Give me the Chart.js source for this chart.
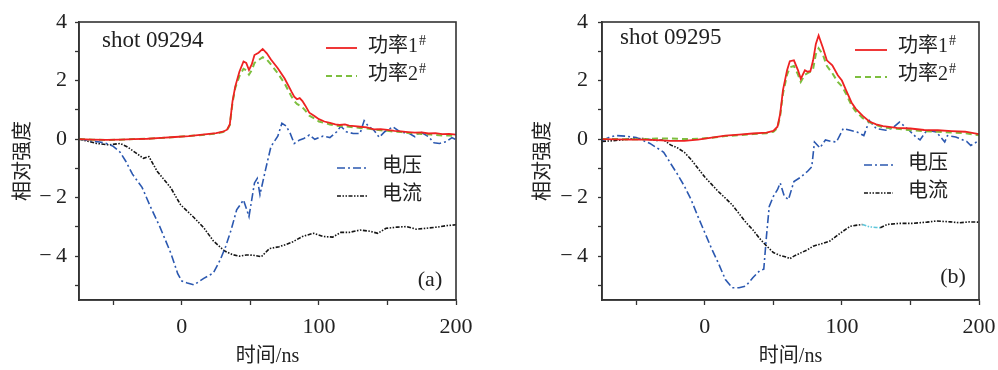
<!DOCTYPE html>
<html lang="zh">
<head>
<meta charset="UTF-8">
<title>相对强度 - shot 09294 / 09295</title>
<script src="https://cdn.jsdelivr.net/npm/chart.js"></script>
<style>
    body { margin: 0; background: #fff; }
    #wrap { position: relative; width: 998px; height: 370px; }
    .panel { position: absolute; top: 0; }
</style>
</head>
<body>
<div id="wrap">
    <canvas id="chartA" class="panel" width="480" height="370" style="left:0px"></canvas>
    <canvas id="chartB" class="panel" width="478" height="370" style="left:520px"></canvas>
</div>

<script>
// ---- data (time in ns, relative intensity) ----
const xTicks = [-50, 0, 50, 100, 150, 200];
const xLabels = [0, 100, 200];
const yTicks = [-5, -4, -3, -2, -1, 0, 1, 2, 3, 4];
const yLabels = [-4, -2, 0, 2, 4];
const seriesNames = ['功率1#', '功率2#', '电压', '电流'];

// shot 09294 (a)
const tPowerA = [-75,-65,-55,-45,-35,-25,-15,-5,5,15,25,30,33,35,37,39,42,45,47,49,51,53,56,59,62,65,70,75,
                 80,82,84,86,88,90,93,97,100,104,108,112,115,119,122,126,130,135,140,145,150,155,160,165,170,175,180,185,190,195,200];
const power1A = [0,-0.02,-0.03,-0.02,0,0.01,0.04,0.07,0.1,0.15,0.2,0.25,0.32,0.5,1.3,1.8,2.3,2.65,2.6,2.36,2.55,2.87,2.95,3.08,2.93,2.72,2.42,2.07,
                 1.62,1.45,1.36,1.4,1.3,1.15,0.9,0.78,0.68,0.6,0.55,0.5,0.48,0.5,0.46,0.44,0.42,0.4,0.33,0.34,0.31,0.28,0.26,0.24,0.22,0.23,0.19,0.2,0.17,0.18,0.15];
const power2A = [0,-0.02,-0.03,-0.02,0,0.01,0.04,0.07,0.1,0.14,0.19,0.24,0.3,0.48,1.25,1.75,2.15,2.4,2.35,2.2,2.35,2.6,2.7,2.8,2.72,2.55,2.25,1.9,
                 1.45,1.3,1.2,1.15,1.08,0.98,0.8,0.7,0.6,0.55,0.5,0.46,0.45,0.44,0.42,0.4,0.38,0.36,0.33,0.3,0.28,0.25,0.24,0.21,0.2,0.17,0.16,0.14,0.12,0.12,0.1];
const tVoltA = [-75,-68,-60,-55,-50,-45,-41,-36,-29,-23,-16,-8,-3,0,4,9,16,23,28,32,36,40,45,49,53,55,57,61,65,70,73,76,79,
                82,86,89,93,97,100,103,108,113,116,120,125,130,133,136,140,144,148,154,159,166,170,174,180,184,188,193,197,200];
const voltA = [0,-0.05,-0.1,-0.15,-0.25,-0.45,-0.75,-1.2,-1.65,-2.3,-3.0,-3.9,-4.6,-4.85,-4.92,-4.98,-4.76,-4.58,-4.13,-3.67,-3.1,-2.42,-2.08,-2.65,-1.5,-1.35,-1.9,-1.06,-0.26,0.1,0.54,0.45,0.2,
               -0.15,-0.03,0.02,0.14,-0.01,0.05,0.1,0.05,0.25,0.44,0.25,0.19,0.19,0.63,0.44,0.31,0.06,0.25,0.42,0.25,0.19,0.08,0.25,0.08,-0.13,-0.15,-0.09,0.05,-0.02];
const tCurrA = [-75,-68,-62,-53,-45,-40,-33,-28,-24,-18,-8,-1,9,16,23,31,37,42,47,52,58,64,71,
                76,81,88,96,103,110,116,122,130,137,143,149,157,164,171,178,186,193,200];
const currA = [0,-0.08,-0.15,-0.2,-0.15,-0.26,-0.49,-0.66,-0.6,-1.1,-1.67,-2.24,-2.69,-3.03,-3.48,-3.82,-3.95,-4.0,-3.96,-3.97,-4.02,-3.74,-3.68,
               -3.6,-3.51,-3.33,-3.22,-3.33,-3.35,-3.19,-3.19,-3.11,-3.15,-3.22,-3.05,-3.01,-2.99,-3.08,-3.05,-3.01,-2.96,-2.93];

// shot 09295 (b)
const tPowerB = [-75,-65,-55,-45,-35,-25,-15,-5,5,15,25,35,45,50,53,55,57,60,62,65,68,70,73,75,77,79,81,83,86,89,93,97,100,103,107,110,115,120,125,130,140,150,160,170,180,190,200];
const power1B = [0,-0.01,-0.02,-0.02,-0.04,-0.06,-0.06,-0.02,0.05,0.12,0.15,0.19,0.22,0.28,0.42,0.87,1.67,2.35,2.66,2.69,2.35,2.06,2.35,2.3,2.32,2.69,3.25,3.54,3.14,2.69,2.52,2.18,2.0,1.67,1.25,1.04,0.8,0.6,0.5,0.44,0.38,0.36,0.31,0.3,0.27,0.25,0.17];
const power2B = [0,0,-0.01,-0.01,0.02,0.02,0.0,0.01,0.04,0.1,0.13,0.17,0.2,0.25,0.38,0.8,1.55,2.2,2.45,2.5,2.2,1.95,2.2,2.25,2.3,2.4,2.9,3.1,2.9,2.5,2.25,1.95,1.8,1.55,1.15,0.95,0.72,0.58,0.48,0.4,0.35,0.3,0.27,0.25,0.22,0.2,0.13];
const tVoltB = [-75,-70,-65,-58,-50,-40,-30,-25,-20,-15,-10,-5,0,5,10,15,20,25,30,35,40,43,45,47,50,53,55,58,61,65,70,75,78,80,
                84,88,92,96,101,106,111,116,120,125,132,137,142,149,154,157,162,169,175,177,183,191,194,200];
const voltB = [-0.05,0.05,0.12,0.1,0.05,-0.15,-0.45,-0.83,-1.2,-1.6,-2.07,-2.65,-3.2,-3.75,-4.25,-4.8,-5.08,-5.08,-5.02,-4.74,-4.5,-4.45,-3.3,-2.3,-1.96,-1.73,-1.5,-1.96,-2.07,-1.45,-1.3,-1.1,-0.95,-0.1,
               -0.3,-0.03,-0.08,-0.1,0.36,0.3,0.24,0.12,0.63,0.36,0.3,0.38,0.58,0.3,0.07,-0.03,0.3,0.24,-0.1,0.12,0.07,-0.08,-0.22,-0.05];
const tCurrB = [-75,-65,-55,-45,-35,-30,-25,-20,-15,-10,-5,0,5,10,15,20,25,30,35,40,45,50,
                55,60,62,65,70,75,79,85,91,95,99,103,106,110,115,120,125,128,133,142,152,162,169,179,186,193,200];
const currB = [-0.08,-0.05,0,0.02,-0.05,-0.03,-0.2,-0.3,-0.45,-0.7,-1.0,-1.3,-1.55,-1.8,-2.02,-2.25,-2.55,-2.85,-3.1,-3.4,-3.65,-3.88,
               -3.98,-4.04,-4.09,-4.0,-3.89,-3.78,-3.66,-3.58,-3.49,-3.35,-3.21,-3.08,-2.98,-2.95,-2.92,-3.0,-3.02,-3.03,-2.92,-2.88,-2.88,-2.84,-2.8,-2.83,-2.86,-2.83,-2.84];
const cyanSpanB = [115, 128];   // short light-blue stretch on the current trace of (b)

// ---- styling ----
const serif = '"Liberation Serif", "Noto Sans CJK SC", serif';
const ink = '#222';
const lineStyles = [
    { color: '#ee2222', width: 1.8, dash: [] },
    { color: '#7dbf3f', width: 2, dash: [6, 4] },
    { color: '#2b58b0', width: 1.6, dash: [8, 3, 2, 3] },
    { color: '#151515', width: 1.6, dash: [4, 1.5, 1.5, 1.5, 1.5, 1.5] }
];

function pts(t, v) {
    return t.map((x, i) => ({ x: x, y: v[i] }));
}

function fmtY(v) {
    return v < 0 ? '\u2212\u2009' + Math.abs(v) : String(v);
}

function makePanel(id, o) {
    const series = [pts(o.tPower, o.p1), pts(o.tPower, o.p2), pts(o.tVolt, o.volt), pts(o.tCurr, o.curr)];
    const datasets = series.map((d, i) => ({
        label: seriesNames[i],
        data: d,
        borderColor: lineStyles[i].color,
        borderWidth: lineStyles[i].width,
        borderDash: lineStyles[i].dash,
        pointRadius: 0,
        tension: 0,
        fill: false,
        order: i
    }));
    if (o.cyanSpan) {
        datasets[3].segment = {
            borderColor: c => (c.p0.parsed.x >= o.cyanSpan[0] && c.p1.parsed.x <= o.cyanSpan[1]) ? '#5cc6da' : undefined
        };
    }

    // frame, legend and text labels
    const extras = {
        id: 'extras',
        afterDatasetsDraw(chart) {
            const ctx = chart.ctx, a = chart.chartArea;
            ctx.save();
            ctx.setLineDash([]);
            ctx.strokeStyle = '#333';
            ctx.lineWidth = 1.6;
            ctx.strokeRect(a.left, a.top, a.right - a.left, a.bottom - a.top);

            ctx.fillStyle = ink;
            ctx.textBaseline = 'middle';
            ctx.textAlign = 'left';
            ctx.font = '23px ' + serif;
            ctx.fillText(o.shot, o.shotPos[0], o.shotPos[1]);
            ctx.textAlign = 'center';
            ctx.font = '22px ' + serif;
            ctx.fillText(o.tag, o.tagPos[0], o.tagPos[1]);

            chart.data.datasets.forEach((ds, i) => {
                const L = o.legend[i];
                ctx.strokeStyle = ds.borderColor;
                ctx.lineWidth = ds.borderWidth;
                ctx.setLineDash(ds.borderDash);
                ctx.beginPath();
                ctx.moveTo(L.x0, L.y);
                ctx.lineTo(L.x1, L.y);
                ctx.stroke();
                ctx.setLineDash([]);
                ctx.textAlign = 'left';
                ctx.fillStyle = ink;
                ctx.font = '20px ' + serif;
                let text = ds.label, sup = '';
                if (text.endsWith('#')) { sup = '#'; text = text.slice(0, -1); }
                ctx.fillText(text, L.tx, L.ty);
                if (sup) {
                    const w = ctx.measureText(text).width;
                    ctx.font = '14px ' + serif;
                    ctx.fillText(sup, L.tx + w + 1, L.ty - 6);
                }
            });
            ctx.restore();
        }
    };

    return new Chart(document.getElementById(id), {
        type: 'line',
        data: { datasets: datasets },
        options: {
            responsive: false,
            animation: false,
            devicePixelRatio: 1,
            layout: { padding: { top: 22, right: o.padRight, bottom: 0, left: 0 } },
            plugins: { legend: { display: false }, tooltip: { enabled: false } },
            scales: {
                x: {
                    type: 'linear',
                    min: -75,
                    max: 200,
                    afterBuildTicks: s => { s.ticks = xTicks.map(v => ({ value: v })); },
                    afterFit: s => { s.height = 70; s.paddingLeft = 0; s.paddingRight = 0; },
                    ticks: {
                        autoSkip: false,
                        maxRotation: 0,
                        padding: 9,
                        color: ink,
                        font: { family: serif, size: 22 },
                        callback: v => xLabels.includes(v) ? String(v) : ''
                    },
                    grid: { drawOnChartArea: false, tickLength: 5, tickColor: '#333', tickWidth: 1.3 },
                    border: { color: '#333', width: 1.6 },
                    title: { display: true, text: '时间/ns', color: ink, font: { family: serif, size: 20 }, padding: { top: 0, bottom: 1 } }
                },
                y: {
                    type: 'linear',
                    min: -5.5,
                    max: 4,
                    afterBuildTicks: s => { s.ticks = yTicks.map(v => ({ value: v })); },
                    afterFit: s => { s.width = o.yWidth; s.paddingTop = 0; s.paddingBottom = 0; },
                    ticks: {
                        autoSkip: false,
                        padding: o.yPad,
                        color: ink,
                        font: { family: serif, size: 22 },
                        callback: v => yLabels.includes(v) ? fmtY(v) : ''
                    },
                    grid: { drawOnChartArea: false, tickLength: 4, tickColor: '#333', tickWidth: 1.3 },
                    border: { color: '#333', width: 1.6 },
                    title: { display: true, text: '相对强度', color: ink, font: { family: '"Noto Sans CJK SC", sans-serif', size: 20 }, padding: { top: 9, bottom: 0 } }
                }
            }
        },
        plugins: [extras]
    });
}

makePanel('chartA', {
    tPower: tPowerA, p1: power1A, p2: power2A, tVolt: tVoltA, volt: voltA, tCurr: tCurrA, curr: currA,
    yWidth: 79, yPad: 8, padRight: 24,
    shot: 'shot 09294', shotPos: [102, 41], tag: '(a)', tagPos: [430, 280],
    legend: [
        { x0: 326, x1: 357, y: 48, tx: 368, ty: 47 },
        { x0: 326, x1: 357, y: 76, tx: 368, ty: 75 },
        { x0: 337, x1: 367, y: 168, tx: 382, ty: 167 },
        { x0: 337, x1: 367, y: 196, tx: 382, ty: 195 }
    ]
});

makePanel('chartB', {
    tPower: tPowerB, p1: power1B, p2: power2B, tVolt: tVoltB, volt: voltB, tCurr: tCurrB, curr: currB,
    cyanSpan: cyanSpanB,
    yWidth: 82, yPad: 10, padRight: 19,
    shot: 'shot 09295', shotPos: [100, 38], tag: '(b)', tagPos: [433, 277],
    legend: [
        { x0: 335, x1: 367, y: 50, tx: 378, ty: 47 },
        { x0: 335, x1: 367, y: 77, tx: 378, ty: 75 },
        { x0: 344, x1: 373, y: 165, tx: 388, ty: 164 },
        { x0: 344, x1: 373, y: 193, tx: 388, ty: 192 }
    ]
});
</script>
</body>
</html>
